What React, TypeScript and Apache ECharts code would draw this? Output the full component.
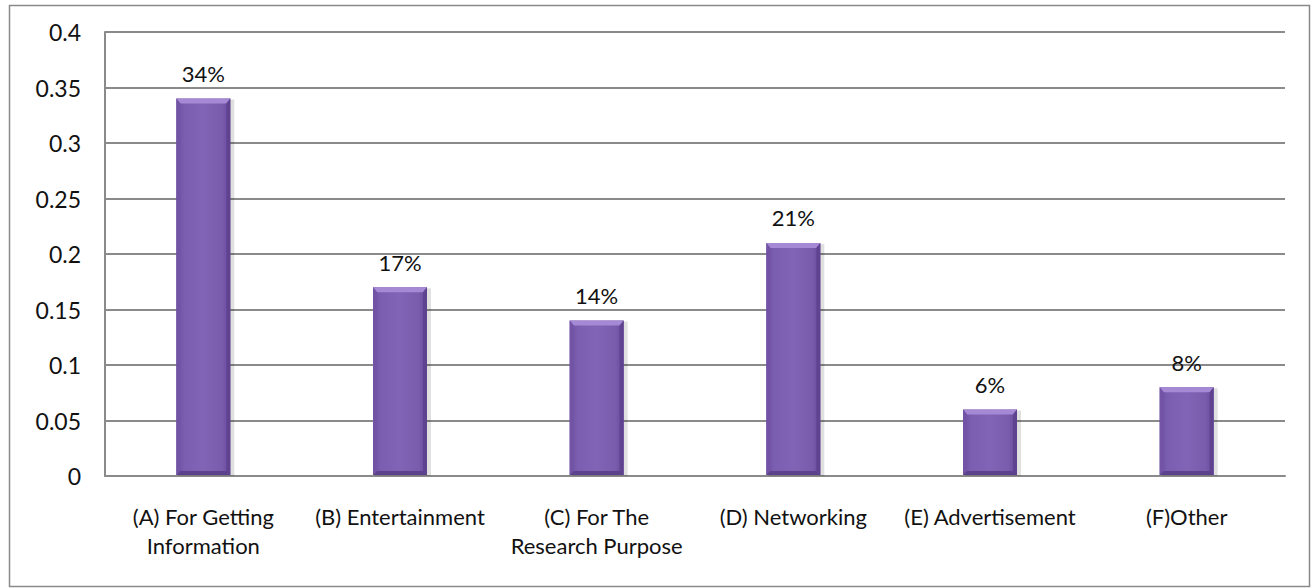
import React, { useEffect, useRef } from "react";
import * as echarts from "echarts";

const categories = [
  "(A) For Getting\nInformation",
  "(B) Entertainment",
  "(C) For The\nResearch Purpose",
  "(D) Networking",
  "(E) Advertisement",
  "(F)Other",
];
const values = [0.34, 0.17, 0.14, 0.21, 0.06, 0.08];

const FONT = "Lato, 'Open Sans', sans-serif";

export default function App() {
  const ref = useRef<HTMLDivElement>(null);
  useEffect(() => {
    if (!ref.current) return;
    const chart = echarts.init(ref.current, undefined, { renderer: "svg" });
    const barW = 54;
    const bev = 4;
    chart.setOption({
      animation: false,
      backgroundColor: "#ffffff",
      textStyle: { fontFamily: FONT },
      graphic: [
        {
          type: "rect",
          shape: { x: 9.5, y: 5.5, width: 1300, height: 581 },
          style: { fill: "none", stroke: "#8a8a8a", lineWidth: 1.5 },
          silent: true,
        },
      ],
      grid: { left: 105, right: 27, top: 32, bottom: 112, containLabel: false },
      xAxis: {
        type: "category",
        data: categories,
        axisLine: { show: true, lineStyle: { color: "#8a8a8a", width: 2 } },
        axisTick: { show: false },
        axisLabel: {
          color: "#111",
          fontSize: 22,
          fontFamily: FONT,
          margin: 26,
          lineHeight: 29,
          interval: 0,
        },
      },
      yAxis: {
        type: "value",
        min: 0,
        max: 0.4,
        interval: 0.05,
        axisLine: { show: true, lineStyle: { color: "#8a8a8a", width: 2 } },
        axisTick: { show: false },
        axisLabel: { color: "#111", fontSize: 23, fontFamily: FONT, margin: 24 },
        splitLine: { show: true, lineStyle: { color: "#8a8a8a", width: 2 } },
      },
      series: [
        {
          type: "custom",
          data: values.map((v, i) => [i, v]),
          encode: { x: 0, y: 1 },
          z: 3,
          renderItem: (params: any, api: any) => {
            const top = api.coord([api.value(0), api.value(1)]);
            const base = api.coord([api.value(0), 0]);
            const cx = top[0];
            const L = cx - barW / 2;
            const R = cx + barW / 2;
            const T = top[1];
            const B = base[1] - 1;
            const pct = Math.round(api.value(1) * 100) + "%";
            return {
              type: "group",
              children: [
                {
                  type: "rect",
                  shape: { x: L + 2, y: T + 1, width: barW + 2, height: B - T },
                  style: { fill: "rgba(0,0,0,0.12)" },
                },
                {
                  type: "rect",
                  shape: { x: L, y: T, width: barW, height: B - T },
                  style: {
                    fill: new echarts.graphic.LinearGradient(0, 0, 1, 0, [
                      { offset: 0, color: "#6e50a2" },
                      { offset: 0.15, color: "#7c5eb0" },
                      { offset: 0.5, color: "#8264b6" },
                      { offset: 0.85, color: "#7a5cad" },
                      { offset: 1, color: "#654899" },
                    ]),
                  },
                },
                {
                  type: "polygon",
                  shape: { points: [[L, T], [R, T], [R - bev, T + bev + 1], [L + bev, T + bev + 1]] },
                  style: { fill: "#a689d4" },
                },
                {
                  type: "polygon",
                  shape: { points: [[L, T], [L + bev, T + bev + 1], [L + bev, B - bev], [L, B]] },
                  style: { fill: "#7253a6" },
                },
                {
                  type: "polygon",
                  shape: { points: [[R, T], [R - bev, T + bev + 1], [R - bev, B - bev], [R, B]] },
                  style: { fill: "#5f4391" },
                },
                {
                  type: "polygon",
                  shape: { points: [[L, B], [R, B], [R - bev, B - bev], [L + bev, B - bev]] },
                  style: { fill: "#5c428c" },
                },
                {
                  type: "text",
                  style: {
                    text: pct,
                    x: cx,
                    y: T - 14,
                    align: "center",
                    verticalAlign: "bottom",
                    fill: "#111",
                    fontSize: 22,
                    fontFamily: FONT,
                  },
                },
              ],
            };
          },
        },
      ],
    });
    return () => chart.dispose();
  }, []);
  return (
    <div
      ref={ref}
      style={{ position: "absolute", left: 0, top: 0, width: 1312, height: 588 }}
    />
  );
}
